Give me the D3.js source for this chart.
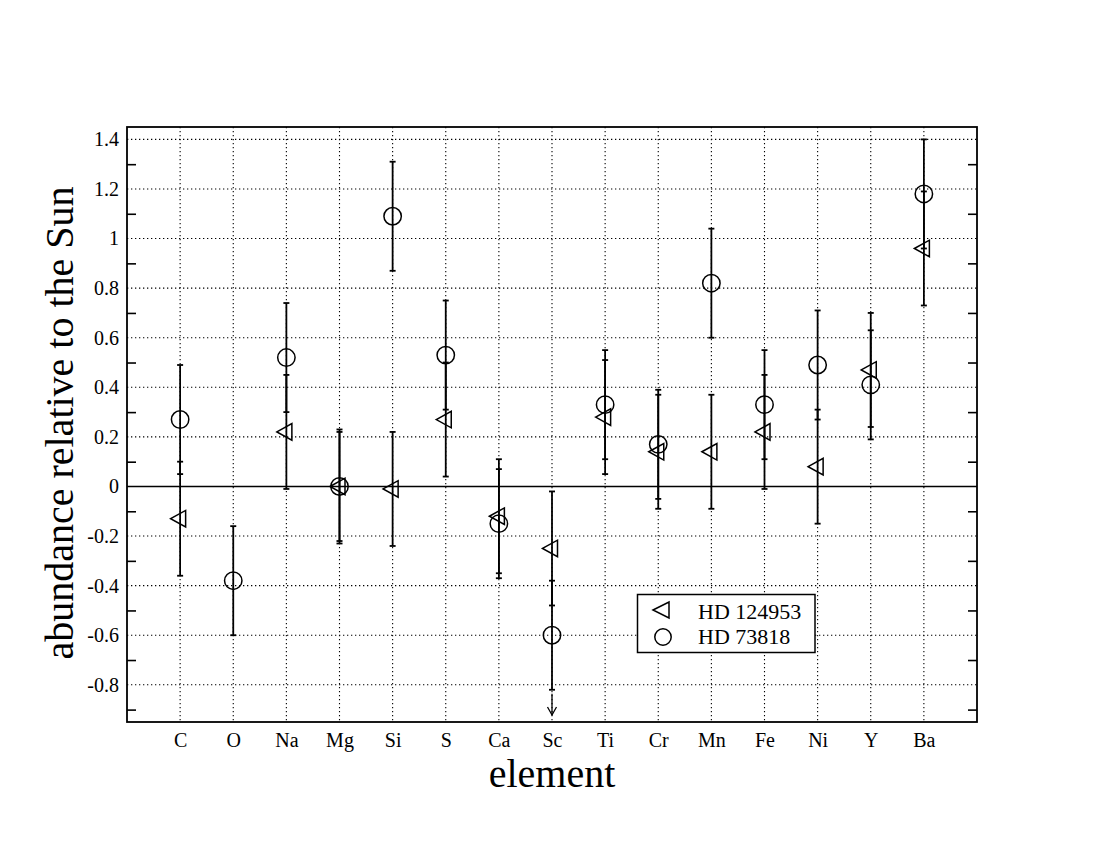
<!DOCTYPE html>
<html>
<head>
<meta charset="utf-8">
<script src="https://cdn.jsdelivr.net/npm/d3@7"></script>
<style>
  html, body { margin: 0; padding: 0; background: #fff; }
  svg { display: block; }
  text { font-family: "Liberation Serif", "Times New Roman", serif; fill: #000; }
</style>
</head>
<body>
<svg id="chart" width="1100" height="850"></svg>
<script>
// ---- data ----
const elements = ["C","O","Na","Mg","Si","S","Ca","Sc","Ti","Cr","Mn","Fe","Ni","Y","Ba"];
const hd124953 = [-0.13, null, 0.22, 0.00, -0.01, 0.27, -0.12, -0.25, 0.28, 0.14, 0.14, 0.22, 0.08, 0.47, 0.96];
const hd124953Err = [0.23, null, 0.23, 0.23, 0.23, 0.23, 0.23, 0.23, 0.23, 0.23, 0.23, 0.23, 0.23, 0.23, 0.23];
const hd73818 = [0.27, -0.38, 0.52, 0.00, 1.09, 0.53, -0.15, -0.60, 0.33, 0.17, 0.82, 0.33, 0.49, 0.41, 1.18];
const hd73818Err = [0.22, 0.22, 0.22, 0.22, 0.22, 0.22, 0.22, 0.22, 0.22, 0.22, 0.22, 0.22, 0.22, 0.22, 0.22];
const upperLimits = ["Sc"]; // element with a downward arrow (HD 73818)
const yMajorTicks = [-0.8,-0.6,-0.4,-0.2,0,0.2,0.4,0.6,0.8,1,1.2,1.4];
const yTickLabels = ["-0.8","-0.6","-0.4","-0.2","0","0.2","0.4","0.6","0.8","1","1.2","1.4"];
const yMinorTicks = [-0.9,-0.7,-0.5,-0.3,-0.1,0.1,0.3,0.5,0.7,0.9,1.1,1.3];
const seriesNames = ["HD 124953", "HD 73818"];

// ---- layout ----
const FONT = '"Liberation Serif", "Times New Roman", serif';
const svg = d3.select("#chart");
const L = 127, R = 977, T = 127, B = 722;
const x = d3.scaleLinear().domain([0, elements.length + 1]).range([L, R]);
const y = d3.scaleLinear().domain([-0.95, 1.45]).range([B, T]);

svg.append("rect").attr("width", 1100).attr("height", 850).attr("fill", "#fff");

// grid
const grid = svg.append("g").attr("stroke", "#000").attr("stroke-width", 1.1)
  .attr("stroke-dasharray", "1.3,2.7").attr("fill", "none");
grid.selectAll("line.h").data(yMajorTicks.filter(d => d !== 0)).join("line")
  .attr("x1", L).attr("x2", R).attr("y1", d => y(d)).attr("y2", d => y(d));
grid.selectAll("line.v").data(elements).join("line")
  .attr("x1", (d, i) => x(i + 1)).attr("x2", (d, i) => x(i + 1))
  .attr("y1", T).attr("y2", B);

// zero line
svg.append("line").attr("x1", L).attr("x2", R).attr("y1", y(0)).attr("y2", y(0))
  .attr("stroke", "#000").attr("stroke-width", 1.6);

// y axes (minor ticks inward, labels at majors)
const yLeft = d3.axisLeft(y).tickValues(yMajorTicks).tickSize(0).tickPadding(8)
  .tickFormat((d, i) => yTickLabels[i]);
const gyl = svg.append("g").attr("transform", `translate(${L},0)`).call(yLeft)
  .attr("font-family", FONT).attr("font-size", 20);
gyl.select(".domain").remove();
gyl.selectAll("text").style("font-family", FONT).attr("font-size", 20);

const minorL = d3.axisRight(y).tickValues(yMinorTicks).tickSize(9).tickFormat("");
const gml = svg.append("g").attr("transform", `translate(${L},0)`).call(minorL);
gml.select(".domain").remove();
gml.selectAll("line").attr("stroke-width", 1.6);
const minorR = d3.axisLeft(y).tickValues(yMinorTicks).tickSize(9).tickFormat("");
const gmr = svg.append("g").attr("transform", `translate(${R},0)`).call(minorR);
gmr.select(".domain").remove();
gmr.selectAll("line").attr("stroke-width", 1.6);

// x axis labels
const xb = d3.axisBottom(x).tickValues(elements.map((d, i) => i + 1)).tickSize(0).tickPadding(11)
  .tickFormat(d => elements[d - 1]);
const gx = svg.append("g").attr("transform", `translate(0,${B})`).call(xb)
  .attr("font-family", FONT).attr("font-size", 20);
gx.select(".domain").remove();
gx.selectAll("text").style("font-family", FONT).attr("font-size", 20);

// error bars
function drawErr(vals, errs, cls) {
  const g = svg.append("g").attr("class", cls).attr("stroke", "#000").attr("stroke-width", 1.8);
  const data = elements.map((e, i) => ({ i, v: vals[i], e: errs[i] })).filter(d => d.v !== null);
  g.selectAll("line.bar").data(data).join("line")
    .attr("x1", d => x(d.i + 1)).attr("x2", d => x(d.i + 1))
    .attr("y1", d => y(d.v + d.e)).attr("y2", d => y(d.v - d.e));
  ["top", "bot"].forEach(k => {
    g.selectAll("line.cap" + k).data(data).join("line")
      .attr("x1", d => x(d.i + 1) - 3).attr("x2", d => x(d.i + 1) + 3)
      .attr("y1", d => y(k === "top" ? d.v + d.e : d.v - d.e))
      .attr("y2", d => y(k === "top" ? d.v + d.e : d.v - d.e));
  });
  return data;
}
const d1 = drawErr(hd124953, hd124953Err, "err1");
const d2 = drawErr(hd73818, hd73818Err, "err2");

// upper-limit arrow
const arrows = d2.filter(d => upperLimits.includes(elements[d.i]));
const ga = svg.append("g").attr("stroke", "#000").attr("stroke-width", 1.3).attr("fill", "none");
arrows.forEach(d => {
  const cx = x(d.i + 1), y0 = y(d.v - d.e) + 4, y1 = B - 7;
  ga.append("line").attr("x1", cx).attr("x2", cx).attr("y1", y0).attr("y2", y1);
  ga.append("path").attr("d", `M${cx - 4.5},${y1 - 8} L${cx},${y1} L${cx + 4.5},${y1 - 8}`);
});

// markers
const triPath = (cx, cy) => `M${cx - 9.5},${cy} L${cx + 5.5},${cy - 8.3} L${cx + 5.5},${cy + 8.3} Z`;
svg.append("g").selectAll("path").data(d1).join("path")
  .attr("d", d => triPath(x(d.i + 1), y(d.v)))
  .attr("fill", "none").attr("stroke", "#000").attr("stroke-width", 1.5);
svg.append("g").selectAll("circle").data(d2).join("circle")
  .attr("cx", d => x(d.i + 1)).attr("cy", d => y(d.v)).attr("r", 8.7)
  .attr("fill", "none").attr("stroke", "#000").attr("stroke-width", 1.5);

// frame
svg.append("rect").attr("x", L).attr("y", T).attr("width", R - L).attr("height", B - T)
  .attr("fill", "none").attr("stroke", "#000").attr("stroke-width", 1.8);

// legend
const lg = svg.append("g");
lg.append("rect").attr("x", 637.5).attr("y", 594.5).attr("width", 177.5).attr("height", 58)
  .attr("fill", "#fff").attr("stroke", "#000").attr("stroke-width", 1.5);
lg.append("path").attr("d", `M${653},${610} L${669},${602} L${669},${618} Z`)
  .attr("fill", "none").attr("stroke", "#000").attr("stroke-width", 1.5);
lg.append("circle").attr("cx", 663).attr("cy", 637).attr("r", 8.2)
  .attr("fill", "none").attr("stroke", "#000").attr("stroke-width", 1.5);
lg.append("text").attr("x", 698).attr("y", 619).attr("font-size", 22).style("font-family", FONT)
  .text(seriesNames[0]);
lg.append("text").attr("x", 698).attr("y", 644).attr("font-size", 22).style("font-family", FONT)
  .text(seriesNames[1]);

// axis titles
svg.append("text").attr("x", (L + R) / 2).attr("y", 787).attr("text-anchor", "middle")
  .attr("font-size", 40).style("font-family", FONT).text("element");
svg.append("text").attr("transform", `translate(73,423) rotate(-90)`).attr("text-anchor", "middle")
  .attr("font-size", 40).style("font-family", FONT).text("abundance relative to the Sun");
</script>
</body>
</html>
